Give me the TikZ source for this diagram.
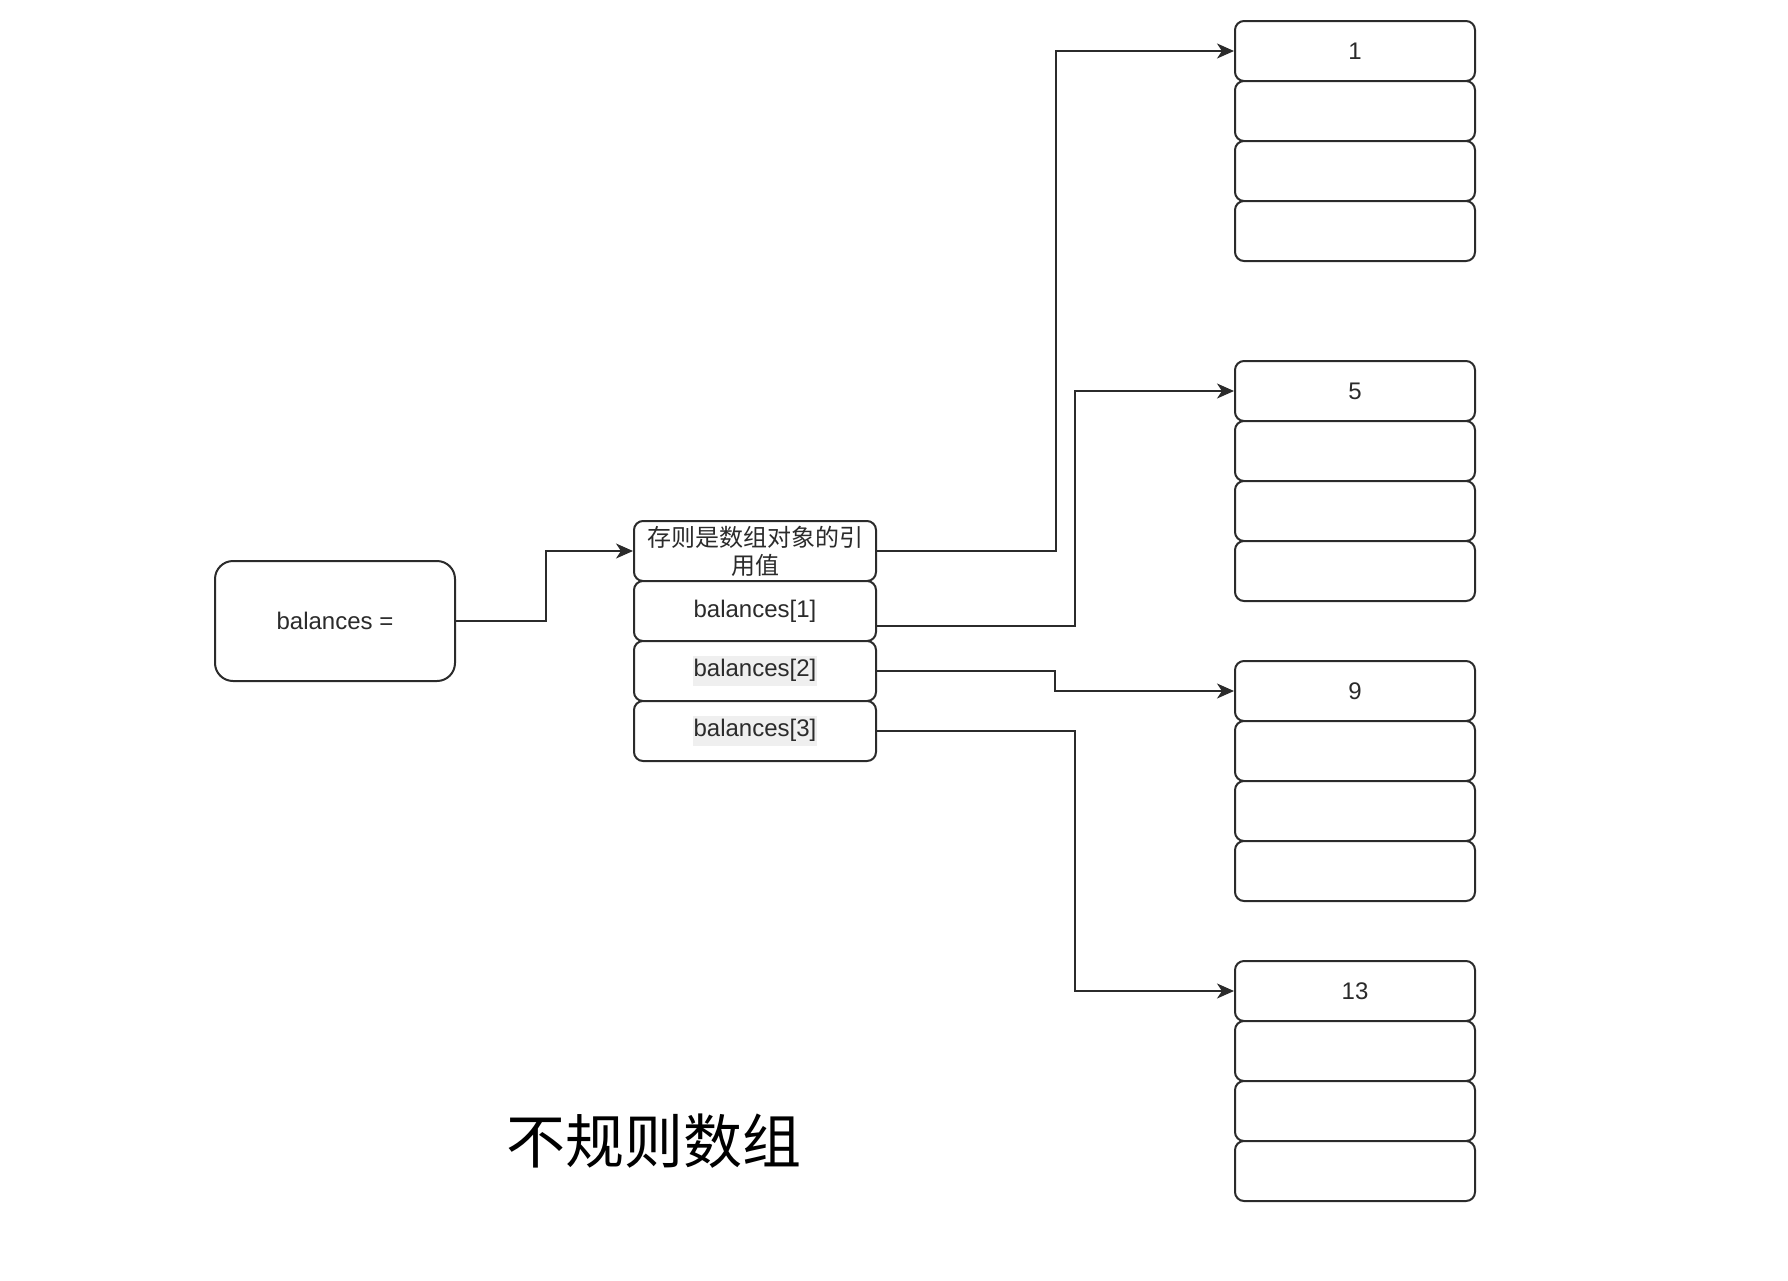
\documentclass[tikz,border=0pt]{standalone}
\usepackage{fontspec}
\setmainfont{Liberation Sans}
\newfontfamily\cjk{Noto Sans CJK SC}
\usetikzlibrary{arrows.meta}
\definecolor{ink}{HTML}{2B2B2B}
\definecolor{hl}{HTML}{EFEFEF}
\newcommand{\hlbox}[1]{{\setlength{\fboxsep}{1pt}\colorbox{hl}{\strut #1}}}
\begin{document}
\begin{tikzpicture}[x=1pt,y=-1pt,
  base/.style={draw=ink, line width=2pt, fill=white, inner sep=0pt,
    anchor=north west, text=ink, align=center,
    font=\fontsize{24}{28}\selectfont},
  cell/.style={base, rounded corners=9pt, minimum width=240pt, minimum height=60pt},
  midcell/.style={cell, minimum width=242pt},
  varbox/.style={base, rounded corners=18pt, minimum width=240pt, minimum height=120pt},
  conn/.style={draw=ink, line width=2pt,
    -{Stealth[length=17pt,width=15pt,inset=5pt]}}
]
\useasboundingbox (0,0) rectangle (1788,1280);

% the variable
\node[varbox] (bal) at (214,560) {balances =};

% the outer array of references
\node[midcell] (m1) at (633,520) {\cjk 存则是数组对象的引\\\cjk 用值};
\node[midcell] (m2) at (633,580) {balances[1]};
\node[midcell] (m3) at (633,640) {\hlbox{balances[2]}};
\node[midcell] (m4) at (633,700) {\hlbox{balances[3]}};

% the inner arrays, four cells each
\foreach \r/\top/\val in {1/20/1, 2/360/5, 3/660/9, 4/960/13}{
  \node[cell] (r\r-1) at (1234,\top) {\val};
  \node[cell] (r\r-2) at (1234,\top+60) {};
  \node[cell] (r\r-3) at (1234,\top+120) {};
  \node[cell] (r\r-4) at (1234,\top+180) {};
}

% references
\draw[conn] (bal.east) -- ++(90,0) |- (m1.west);
\draw[conn] (m1.east) -- ++(179,0) |- (r1-1.west);
\draw[conn] ([yshift=-15pt]m2.east) -- ++(198,0) |- (r2-1.west);
\draw[conn] (m3.east) -- ++(178,0) |- (r3-1.west);
\draw[conn] (m4.east) -- ++(198,0) |- (r4-1.west);

% caption
\node[text=black, font=\cjk\fontsize{59}{70}\selectfont] (title) at (654,1141) {不规则数组};
\end{tikzpicture}
\end{document}
